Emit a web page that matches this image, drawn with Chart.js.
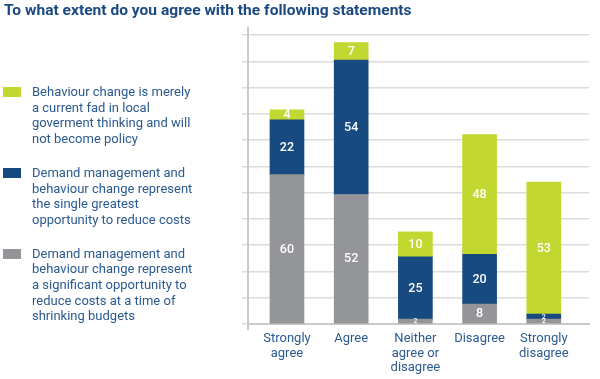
<!DOCTYPE html>
<html>
<head>
<meta charset="utf-8">
<script src="https://cdn.jsdelivr.net/npm/chart.js@4"></script>
<style>
  html, body { margin: 0; padding: 0; background: #fff; }
  #wrap { position: relative; width: 600px; height: 379px; overflow: hidden; font-family: Roboto, sans-serif; }
  #chart { position: absolute; left: 0; top: 0; }
  #title { position: absolute; left: 4px; top: 2px; font-weight: 700; font-size: 14px; color: #1b4a82; white-space: nowrap; transform-origin: 0 0; }
  .box { position: absolute; left: 3px; width: 18px; height: 10px; }
  .txt { position: absolute; left: 32px; font-size: 13px; line-height: 15.7px; color: #2b5a90; white-space: nowrap; }
</style>
</head>
<body>
<div id="wrap">
  <canvas id="chart" width="600" height="379"></canvas>
  <div id="title">To what extent do you agree with the following statements</div>
  <div id="legend"></div>
</div>
<script>
// chart data
const categories = [["Strongly", "agree"], ["Agree"], ["Neither", "agree or", "disagree"], ["Disagree"], ["Strongly", "disagree"]];
const significantOpportunity = [60, 52, 2, 8, 2];
const greatestOpportunity = [22, 54, 25, 20, 2];
const currentFad = [4, 7, 10, 48, 53];

const seriesNames = [
    ["Demand management and", "behaviour change represent", "a significant opportunity to", "reduce costs at a time of", "shrinking budgets"],
    ["Demand management and", "behaviour change represent", "the single greatest", "opportunity to reduce costs"],
    ["Behaviour change is merely", "a current fad in local", "goverment thinking and will", "not become policy"]
];
const seriesColors = ["#949599", "#174a80", "#c2d72f"];
const seriesValues = [significantOpportunity, greatestOpportunity, currentFad];

// gridlines: 11 steps up to 116
const gridMax = 116;
const gridSteps = 11;

// legend (top to bottom = green, blue, grey)
const legendTops = [245.6, 165, 84];
let legend = document.getElementById("legend");
seriesNames.forEach((lines, i) => {
    let box = document.createElement("div");
    box.className = "box";
    box.style.top = (legendTops[i] + 3) + "px";
    box.style.background = seriesColors[i];
    let txt = document.createElement("div");
    txt.className = "txt";
    txt.style.top = legendTops[i] + "px";
    txt.innerHTML = lines.join("<br>");
    legend.appendChild(box);
    legend.appendChild(txt);
});

// squeeze title to the reference width
let title = document.getElementById("title");
title.style.transform = `scaleX(${408 / title.offsetWidth})`;

// white numbers inside each segment
const barLabels = {
    id: "barLabels",
    afterDatasetsDraw(chart) {
        let ctx = chart.ctx;
        ctx.save();
        ctx.fillStyle = "#fff";
        ctx.textAlign = "center";
        ctx.textBaseline = "middle";
        chart.data.datasets.forEach((ds, di) => {
            chart.getDatasetMeta(di).data.forEach((bar, i) => {
                let h = bar.base - bar.y;
                ctx.font = h < 8 ? "500 7px Roboto" : "500 12.5px Roboto";
                ctx.fillText(ds.data[i].y, bar.x, (bar.y + bar.base) / 2 + 0.5);
            });
        });
        ctx.restore();
    }
};

new Chart(document.getElementById("chart").getContext("2d"), {
    type: "bar",
    data: {
        datasets: seriesValues.map((vals, s) => ({
            label: seriesNames[s].join(" "),
            data: vals.map((v, i) => ({ x: i, y: v })),
            backgroundColor: seriesColors[s],
            barThickness: 34
        }))
    },
    options: {
        responsive: false,
        animation: false,
        layout: { padding: { left: 242, right: 11, top: 27.6, bottom: 0 } },
        plugins: { legend: { display: false }, tooltip: { enabled: false } },
        scales: {
            x: {
                type: "linear",
                stacked: true,
                offset: false,
                min: -0.607,
                max: 4.704,
                afterBuildTicks: s => { s.ticks = [-0.607, 0, 1, 2, 3, 4].map(v => ({ value: v })); },
                afterFit: s => { s.height = 55; },
                grid: {
                    offset: false,
                    drawOnChartArea: false,
                    tickLength: 6,
                    lineWidth: 2,
                    tickColor: c => c.index === 0 ? "#cacaca" : "rgba(0,0,0,0)"
                },
                border: { color: "#cacaca", width: 2 },
                ticks: {
                    autoSkip: false,
                    maxRotation: 0,
                    padding: 2,
                    color: "#2b5a90",
                    font: { family: "Roboto", size: 13, lineHeight: 1.1 },
                    callback: v => Number.isInteger(v) ? categories[v] : ""
                }
            },
            y: {
                stacked: true,
                min: 0,
                max: 119,
                afterBuildTicks: s => {
                    s.ticks = [];
                    for (let i = 0; i <= gridSteps; i++) s.ticks.push({ value: i * gridMax / gridSteps });
                },
                grid: { color: "#dcdcdc", lineWidth: 1.5, tickLength: 6 },
                border: { color: "#cacaca", width: 2 },
                ticks: { display: false }
            }
        }
    },
    plugins: [barLabels]
});
</script>
</body>
</html>
